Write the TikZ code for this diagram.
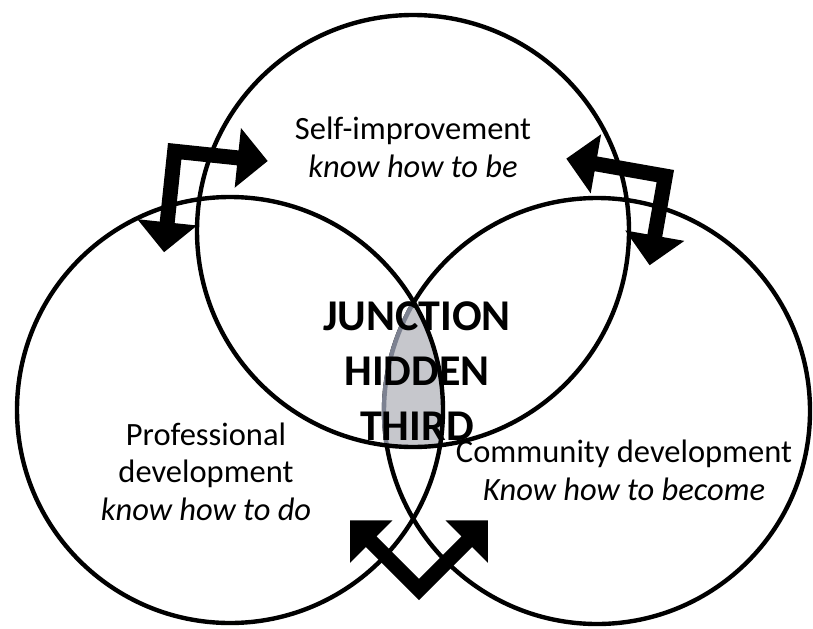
\documentclass[tikz,border=0pt]{standalone}
\usepackage{fontspec}
\setmainfont{Carlito}
\begin{document}
\begin{tikzpicture}[x=0.02cm, y=-0.02cm, line width=2.5pt,
  ring/.style={draw=black},
  caption/.style={align=center, anchor=base, font=\fontsize{18.5}{21.2}\selectfont},
  hidden/.style={fill={rgb,255:red,198;green,199;blue,204}, draw={rgb,255:red,125;green,130;blue,145}},
  pics/elbow/.style 2 args={code={
    \fill[black] (0,0) -- (#1-30,0) -- (#1-30,-22.5) -- (#1,7.5) -- (#1-30,37.5)
      -- (#1-30,15) -- (15,15) -- (15,#2-30) -- (37.5,#2-30) -- (7.5,#2)
      -- (-22.5,#2-30) -- (0,#2-30) -- cycle;
  }}]
\useasboundingbox (0,0) rectangle (813,628);
\fill[white] (0,0) rectangle (813,628);
% circle centres
\coordinate (selfc) at (413,231);
\coordinate (profc) at (230,410);
\coordinate (commc) at (597,411);
\draw[ring] (commc) circle[radius=213];
% the hidden third
\begin{scope}
\clip (selfc) circle[radius=216];
\clip (profc) circle[radius=213];
\filldraw[hidden] (commc) circle[radius=213];
\end{scope}
\draw[ring] (profc) circle[radius=213];
\draw[ring] (selfc) circle[radius=216];
% bent arrows
\pic[rotate=-6] at (168,143) {elbow={101}{109}};
\pic[rotate=-10, xscale=-1] at (674,170) {elbow={108}{98}};
\pic[rotate=135] at (419,600) {elbow={105}{105}};
% texts (base = last line)
\node[caption] (self) at (413,177) {Self-improvement\\\textit{know how to be}};
\node[caption] (prof) at (206,520) {Professional\\development\\\textit{know how to do}};
\node[caption] (comm) at (624,500) {Community development\\\textit{Know how to become}};
\node[caption, font=\bfseries\fontsize{25}{31.3}\selectfont] (junction) at (417,440) {JUNCTION\\HIDDEN\\THIRD};
\end{tikzpicture}
\end{document}
